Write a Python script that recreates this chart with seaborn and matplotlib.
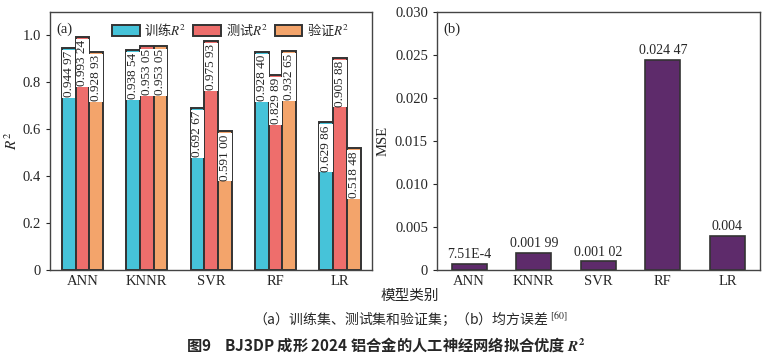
import pandas as pd
import matplotlib
matplotlib.use('Agg')
import matplotlib.pyplot as plt
from matplotlib.font_manager import FontProperties
import seaborn as sns
import numpy as np

# data
models = ['ANN', 'KNNR', 'SVR', 'RF', 'LR']
train_r2 = [0.94497, 0.93854, 0.69267, 0.92840, 0.62986]
test_r2 = [0.99324, 0.95305, 0.97593, 0.82989, 0.90588]
val_r2 = [0.92893, 0.95305, 0.59100, 0.93265, 0.51848]
mse = [7.51e-4, 0.00199, 0.00102, 0.02447, 0.004]
mse_labels = ['7.51E-4', '0.001 99', '0.001 02', '0.024 47', '0.004']
series_names = ['训练$R^2$', '测试$R^2$', '验证$R^2$']

sns.set_style('ticks')
plt.rcParams['font.family'] = ['Liberation Serif', 'Noto Sans CJK SC']
plt.rcParams['mathtext.fontset'] = 'stix'
plt.rcParams['axes.unicode_minus'] = False

colors = ['#46C3D9', '#EE6E6C', '#F3A46B']
edge = '#333333'
cjk = 'Noto Sans CJK SC'


def fmt5(v):
    s = f'{v:.5f}'
    return s[:5] + ' ' + s[5:]


df = pd.DataFrame({
    'model': models * 3,
    'value': train_r2 + test_r2 + val_r2,
    'set': [series_names[0]] * 5 + [series_names[1]] * 5 + [series_names[2]] * 5,
})
df_mse = pd.DataFrame({'model': models, 'mse': mse})

fig = plt.figure(figsize=(7.72, 3.64), dpi=100)
ax1 = fig.add_axes([0.065, 0.258, 0.417, 0.709])
ax2 = fig.add_axes([0.566, 0.258, 0.418, 0.709])

sns.barplot(data=df, x='model', y='value', hue='set', palette=colors,
            width=0.64, edgecolor=edge, linewidth=1.4, saturation=1, ax=ax1)
ax1.set_ylim(0, 1.1)
ax1.set_xlim(-0.5, 4.5)
ax1.set_yticks([0, 0.2, 0.4, 0.6, 0.8, 1.0])
ax1.set_yticklabels(['0', '0.2', '0.4', '0.6', '0.8', '1.0'])
ax1.set_xlabel('')
ax1.set_ylabel('$R^2$', fontsize=11, labelpad=2)
ax1.tick_params(axis='x', direction='in', length=4, labelsize=10.5)
ax1.tick_params(axis='y', direction='out', length=3, labelsize=10.5)

all_vals = [train_r2, test_r2, val_r2]
for cont, vals in zip(ax1.containers, all_vals):
    for bar, v in zip(cont, vals):
        xc = bar.get_x() + bar.get_width() / 2
        ax1.text(xc, v - 0.012, fmt5(v), rotation=90, ha='center', va='top',
                 fontsize=9.5, bbox=dict(facecolor='white', edgecolor='none', pad=0.6))

ax1.legend(ncol=3, loc='upper right', frameon=False,
           prop=FontProperties(family=cjk, size=9.5),
           handlelength=2.1, handleheight=1.0, columnspacing=0.5,
           handletextpad=0.35, borderaxespad=0.35, bbox_to_anchor=(0.96, 1.0))
ax1.text(0.02, 0.96, '(a)', transform=ax1.transAxes, ha='left', va='top', fontsize=10.5)

sns.barplot(data=df_mse, x='model', y='mse', color='#5E2B6B', width=0.54,
            edgecolor=edge, linewidth=1.2, saturation=1, ax=ax2)
ax2.set_ylim(0, 0.030)
ax2.set_xlim(-0.5, 4.5)
ticks = [0, 0.005, 0.010, 0.015, 0.020, 0.025, 0.030]
ax2.set_yticks(ticks)
ax2.set_yticklabels(['0'] + [f'{t:.3f}' for t in ticks[1:]])
ax2.set_xlabel('')
ax2.set_ylabel('MSE', fontsize=10.5, labelpad=4)
ax2.tick_params(axis='x', direction='in', length=4, labelsize=10.5)
ax2.tick_params(axis='y', direction='out', length=3, labelsize=10.5)
for bar, v, lab in zip(ax2.containers[0], mse, mse_labels):
    xc = bar.get_x() + bar.get_width() / 2
    ax2.text(xc, v + 0.0003, lab, ha='center', va='bottom', fontsize=10)
ax2.text(0.02, 0.96, '(b)', transform=ax2.transAxes, ha='left', va='top', fontsize=10.5)

for ax in (ax1, ax2):
    for sp in ax.spines.values():
        sp.set_visible(True)
        sp.set_linewidth(1.0)
        sp.set_color('#444444')

fig.text(0.531, 0.187, '模型类别', ha='center', va='center', fontsize=10.5)
fig.text(0.531, 0.124, '（a）训练集、测试集和验证集；（b）均方误差 $^{[60]}$',
         ha='center', va='center', fontsize=10, family=cjk)
fig.text(0.5, 0.052, '图9    BJ3DP 成形 2024 铝合金的人工神经网络拟合优度 $\\mathbfit{R}^{\\mathbf{2}}$',
         ha='center', va='center', fontsize=11, fontweight='bold', family=cjk)

fig.savefig('out.png', dpi=100)
